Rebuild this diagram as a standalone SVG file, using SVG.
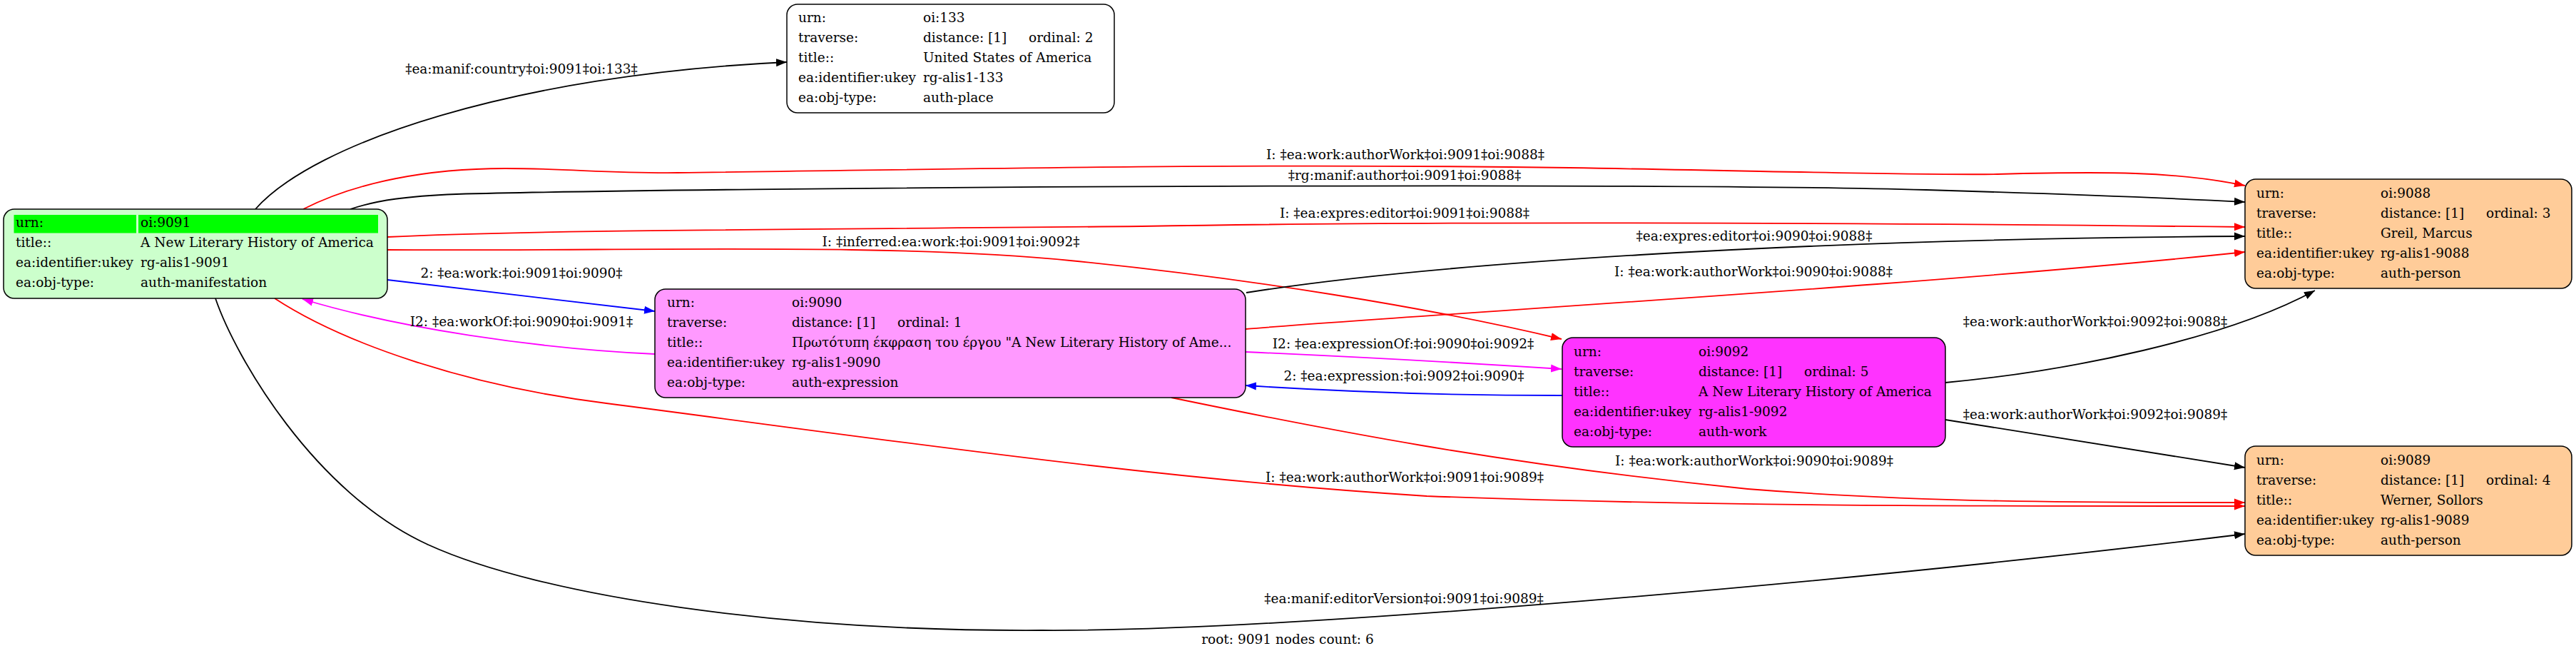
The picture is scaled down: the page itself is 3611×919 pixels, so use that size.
<svg xmlns="http://www.w3.org/2000/svg" width="3611" height="919" viewBox="0 0 3611 919">
<style>
text{font-family:"DejaVu Serif","Liberation Serif",serif;font-size:18.5px;fill:#000}
.node rect.box{stroke:#000;stroke-width:1.5}
.e{fill:none;stroke-width:1.8}
.k{stroke:#000}.r{stroke:#ff0000}.b{stroke:#0000ff}.m{stroke:#ff00ff}
.lbl{text-anchor:middle}
</style>
<defs>
<marker id="ak" markerUnits="userSpaceOnUse" markerWidth="16" markerHeight="12" refX="15" refY="6" orient="auto"><path d="M0,0.5 L15,6 L0,11.5 z" fill="#000"/></marker>
<marker id="ar" markerUnits="userSpaceOnUse" markerWidth="16" markerHeight="12" refX="15" refY="6" orient="auto"><path d="M0,0.5 L15,6 L0,11.5 z" fill="#ff0000"/></marker>
<marker id="ab" markerUnits="userSpaceOnUse" markerWidth="16" markerHeight="12" refX="15" refY="6" orient="auto"><path d="M0,0.5 L15,6 L0,11.5 z" fill="#0000ff"/></marker>
<marker id="am" markerUnits="userSpaceOnUse" markerWidth="16" markerHeight="12" refX="15" refY="6" orient="auto"><path d="M0,0.5 L15,6 L0,11.5 z" fill="#ff00ff"/></marker>
</defs>
<rect width="3611" height="919" fill="#fff"/>
<g id="edges">
<path class="e k" marker-end="url(#ak)" d="M358,293 C440,200 720,105 1103,87"/>
<path class="e r" marker-end="url(#ar)" d="M425,293 C500,255 600,236 708,236 C800,236 850,243 950,242 C1300,238 1700,228 2200,235 C2500,240 2700,246 2800,244 C2950,240 3050,240 3147,260"/>
<path class="e k" marker-end="url(#ak)" d="M491,293 C530,280 570,275 640,272 C1000,262 2300,255 2700,266 C2900,272 3050,278 3147,283"/>
<path class="e r" marker-end="url(#ar)" d="M543,332 C750,322 1100,322 1600,317 C2000,310 2600,312 3147,318"/>
<path class="e r" marker-end="url(#ar)" d="M543,350 C900,352 1250,340 1500,365 C1750,390 2000,430 2189,475"/>
<path class="e b" marker-end="url(#ab)" d="M543,392 C640,404 800,422 918,436"/>
<path class="e m" marker-end="url(#am)" d="M918,496 C750,488 560,460 424,419"/>
<path class="e r" marker-end="url(#ar)" d="M385,418 C480,480 650,540 850,565 C1200,610 1600,670 2000,695 C2400,710 2800,709 3147,709"/>
<path class="e r" marker-end="url(#ar)" d="M1642,557 C1850,600 2100,650 2450,685 C2700,705 2950,704 3147,704"/>
<path class="e k" marker-end="url(#ak)" d="M302,418 C330,500 440,690 600,763 C760,836 1100,885 1461,883 C1800,885 2600,815 3147,748"/>
<path class="e k" marker-end="url(#ak)" d="M1747,410 C2000,370 2500,335 3147,331"/>
<path class="e r" marker-end="url(#ar)" d="M1746,461 C2000,440 2700,400 3147,353"/>
<path class="e m" marker-end="url(#am)" d="M1746,493 C1900,500 2050,508 2189,517"/>
<path class="e b" marker-end="url(#ab)" d="M2190,554 C2050,554 1900,550 1746,540"/>
<path class="e k" marker-end="url(#ak)" d="M2727,536 C2900,520 3120,475 3245,407"/>
<path class="e k" marker-end="url(#ak)" d="M2727,588 C2900,615 3050,640 3147,655"/>
<g class="lbl">
<text x="731" y="103">‡ea:manif:country‡oi:9091‡oi:133‡</text>
<text x="1970" y="223">I: ‡ea:work:authorWork‡oi:9091‡oi:9088‡</text>
<text x="1969" y="252">‡rg:manif:author‡oi:9091‡oi:9088‡</text>
<text x="1969" y="305">I: ‡ea:expres:editor‡oi:9091‡oi:9088‡</text>
<text x="1333" y="345">I: ‡inferred:ea:work:‡oi:9091‡oi:9092‡</text>
<text x="731" y="389">2: ‡ea:work:‡oi:9091‡oi:9090‡</text>
<text x="731" y="457">I2: ‡ea:workOf:‡oi:9090‡oi:9091‡</text>
<text x="1969" y="675">I: ‡ea:work:authorWork‡oi:9091‡oi:9089‡</text>
<text x="2459" y="652">I: ‡ea:work:authorWork‡oi:9090‡oi:9089‡</text>
<text x="1968" y="845">‡ea:manif:editorVersion‡oi:9091‡oi:9089‡</text>
<text x="2459" y="337">‡ea:expres:editor‡oi:9090‡oi:9088‡</text>
<text x="2458" y="387">I: ‡ea:work:authorWork‡oi:9090‡oi:9088‡</text>
<text x="1967" y="488">I2: ‡ea:expressionOf:‡oi:9090‡oi:9092‡</text>
<text x="1968" y="533">2: ‡ea:expression:‡oi:9092‡oi:9090‡</text>
<text x="2937" y="457">‡ea:work:authorWork‡oi:9092‡oi:9088‡</text>
<text x="2937" y="587">‡ea:work:authorWork‡oi:9092‡oi:9089‡</text>
</g>
</g>
<g id="n9091" class="node">
<rect class="box" x="5" y="293" width="538" height="125" rx="15" fill="#ccffcc"/>
<rect x="19.5" y="301" width="171.5" height="25.5" fill="#00ff00"/>
<rect x="194" y="301" width="336" height="25.5" fill="#00ff00"/>
<text x="22" y="318">urn:</text><text x="197" y="318">oi:9091</text>
<text x="22" y="346">title::</text><text x="197" y="346">A New Literary History of America</text>
<text x="22" y="374">ea:identifier:ukey</text><text x="197" y="374">rg-alis1-9091</text>
<text x="22" y="402">ea:obj-type:</text><text x="197" y="402">auth-manifestation</text>
</g>
<g id="n133" class="node">
<rect class="box" x="1103" y="6" width="459" height="152" rx="15" fill="#fff"/>
<text x="1119" y="31">urn:</text><text x="1294" y="31">oi:133</text>
<text x="1119" y="59">traverse:</text><text x="1294" y="59">distance: [1]</text><text x="1442" y="59">ordinal: 2</text>
<text x="1119" y="87">title::</text><text x="1294" y="87">United States of America</text>
<text x="1119" y="115">ea:identifier:ukey</text><text x="1294" y="115">rg-alis1-133</text>
<text x="1119" y="143">ea:obj-type:</text><text x="1294" y="143">auth-place</text>
</g>
<g id="n9090" class="node">
<rect class="box" x="918" y="405" width="828" height="152" rx="15" fill="#ff99ff"/>
<text x="935" y="430">urn:</text><text x="1110" y="430">oi:9090</text>
<text x="935" y="458">traverse:</text><text x="1110" y="458">distance: [1]</text><text x="1258" y="458">ordinal: 1</text>
<text x="935" y="486">title::</text><text x="1110" y="486">Πρωτότυπη έκφραση του έργου "A New Literary History of Ame...</text>
<text x="935" y="514">ea:identifier:ukey</text><text x="1110" y="514">rg-alis1-9090</text>
<text x="935" y="542">ea:obj-type:</text><text x="1110" y="542">auth-expression</text>
</g>
<g id="n9092" class="node">
<rect class="box" x="2190" y="473" width="537" height="153" rx="15" fill="#ff33ff"/>
<text x="2206" y="499">urn:</text><text x="2381" y="499">oi:9092</text>
<text x="2206" y="527">traverse:</text><text x="2381" y="527">distance: [1]</text><text x="2529" y="527">ordinal: 5</text>
<text x="2206" y="555">title::</text><text x="2381" y="555">A New Literary History of America</text>
<text x="2206" y="583">ea:identifier:ukey</text><text x="2381" y="583">rg-alis1-9092</text>
<text x="2206" y="611">ea:obj-type:</text><text x="2381" y="611">auth-work</text>
</g>
<g id="n9088" class="node">
<rect class="box" x="3147" y="251" width="458" height="153" rx="15" fill="#ffcc99"/>
<text x="3163" y="277">urn:</text><text x="3337" y="277">oi:9088</text>
<text x="3163" y="305">traverse:</text><text x="3337" y="305">distance: [1]</text><text x="3485" y="305">ordinal: 3</text>
<text x="3163" y="333">title::</text><text x="3337" y="333">Greil, Marcus</text>
<text x="3163" y="361">ea:identifier:ukey</text><text x="3337" y="361">rg-alis1-9088</text>
<text x="3163" y="389">ea:obj-type:</text><text x="3337" y="389">auth-person</text>
</g>
<g id="n9089" class="node">
<rect class="box" x="3147" y="625" width="458" height="153" rx="15" fill="#ffcc99"/>
<text x="3163" y="651">urn:</text><text x="3337" y="651">oi:9089</text>
<text x="3163" y="679">traverse:</text><text x="3337" y="679">distance: [1]</text><text x="3485" y="679">ordinal: 4</text>
<text x="3163" y="707">title::</text><text x="3337" y="707">Werner, Sollors</text>
<text x="3163" y="735">ea:identifier:ukey</text><text x="3337" y="735">rg-alis1-9089</text>
<text x="3163" y="763">ea:obj-type:</text><text x="3337" y="763">auth-person</text>
</g>
<text x="1805" y="902" class="lbl" text-anchor="middle">root: 9091 nodes count: 6</text>
</svg>
